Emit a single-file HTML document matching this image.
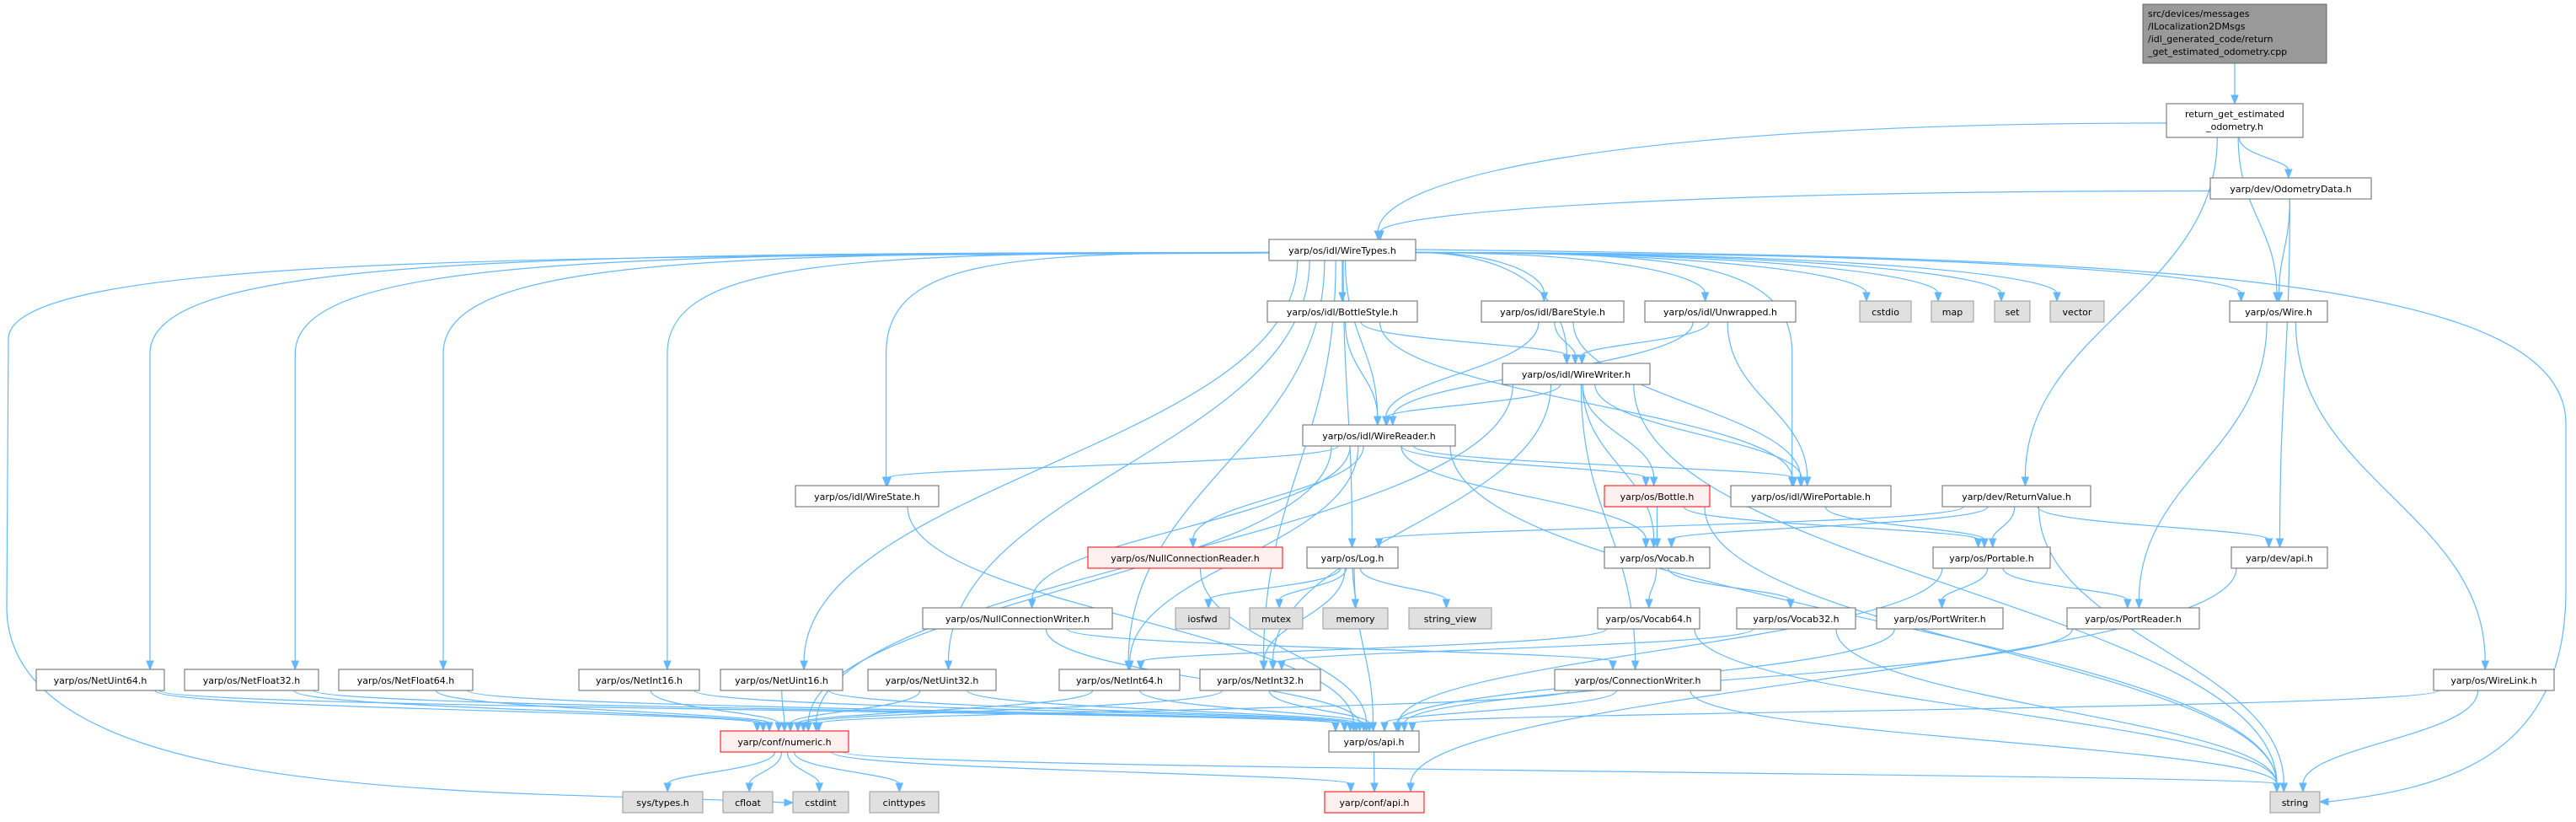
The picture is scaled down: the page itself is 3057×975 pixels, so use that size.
<!DOCTYPE html>
<html><head><meta charset="utf-8">
<style>
html,body{margin:0;padding:0;background:#fff;}
svg{display:block;}
text{font-family:"DejaVu Sans","Liberation Sans",sans-serif;font-size:11px;fill:#000;}
</style></head>
<body>
<svg id="g" width="3057" height="975" viewBox="0 0 3057 975" xmlns="http://www.w3.org/2000/svg">
<g id="edges" fill="none" stroke="#63b8ff" stroke-width="1.2"></g>
<g id="arrows" fill="#63b8ff" stroke="#63b8ff" stroke-width="1"></g>
<g id="nodes">
<rect x="2543" y="5" width="218" height="70" fill="#999" stroke="#666"/>
<text x="2549" y="20">src/devices/messages</text>
<text x="2549" y="35">/ILocalization2DMsgs</text>
<text x="2549" y="50">/idl_generated_code/return</text>
<text x="2549" y="65">_get_estimated_odometry.cpp</text>
<rect x="2571" y="123" width="162" height="40" fill="#fff" stroke="#666"/>
<text x="2652" y="139" text-anchor="middle">return_get_estimated</text>
<text x="2652" y="154" text-anchor="middle">_odometry.h</text>
</g>
</svg>
<script>
var N={
odo:[2623,2814,211,"yarp/dev/OdometryData.h",0],
wt:[1506,1680,284,"yarp/os/idl/WireTypes.h",0],
bot:[1504,1682,357,"yarp/os/idl/BottleStyle.h",0],
bare:[1758,1927,357,"yarp/os/idl/BareStyle.h",0],
unw:[1952,2131,357,"yarp/os/idl/Unwrapped.h",0],
cstdio:[2207,2268,357,"cstdio",1],
map:[2292,2342,357,"map",1],
set:[2367,2409,357,"set",1],
vector:[2433,2497,357,"vector",1],
wire:[2646,2762,357,"yarp/os/Wire.h",0],
ww:[1783,1958,431,"yarp/os/idl/WireWriter.h",0],
wr:[1546,1727,504,"yarp/os/idl/WireReader.h",0],
ws:[944,1114,576,"yarp/os/idl/WireState.h",0],
bottle:[1904,2029,576,"yarp/os/Bottle.h",2],
wp:[2054,2244,576,"yarp/os/idl/WirePortable.h",0],
rv:[2305,2481,576,"yarp/dev/ReturnValue.h",0],
ncr:[1291,1522,649,"yarp/os/NullConnectionReader.h",2],
log:[1551,1659,649,"yarp/os/Log.h",0],
vocab:[1904,2029,649,"yarp/os/Vocab.h",0],
port:[2294,2433,649,"yarp/os/Portable.h",0],
devapi:[2648,2762,649,"yarp/dev/api.h",0],
ncw:[1095,1320,721,"yarp/os/NullConnectionWriter.h",0],
iosfwd:[1395,1459,721,"iosfwd",1],
mutex:[1483,1546,721,"mutex",1],
memory:[1570,1647,721,"memory",1],
sv:[1672,1770,721,"string_view",1],
v64:[1896,2017,721,"yarp/os/Vocab64.h",0],
v32:[2061,2202,721,"yarp/os/Vocab32.h",0],
pw:[2227,2377,721,"yarp/os/PortWriter.h",0],
pr:[2453,2610,721,"yarp/os/PortReader.h",0],
nu64:[43,195,794,"yarp/os/NetUint64.h",0],
nf32:[219,378,794,"yarp/os/NetFloat32.h",0],
nf64:[402,561,794,"yarp/os/NetFloat64.h",0],
ni16:[687,830,794,"yarp/os/NetInt16.h",0],
nu16:[855,1000,794,"yarp/os/NetUint16.h",0],
nu32:[1030,1182,794,"yarp/os/NetUint32.h",0],
ni64:[1257,1400,794,"yarp/os/NetInt64.h",0],
ni32:[1424,1567,794,"yarp/os/NetInt32.h",0],
cw:[1845,2042,794,"yarp/os/ConnectionWriter.h",0],
wl:[2888,3031,794,"yarp/os/WireLink.h",0],
num:[855,1007,867,"yarp/conf/numeric.h",2],
api:[1577,1684,867,"yarp/os/api.h",0],
sys:[739,834,939,"sys/types.h",1],
cfloat:[858,917,939,"cfloat",1],
cstdint:[941,1007,939,"cstdint",1],
cint:[1032,1114,939,"cinttypes",1],
capi:[1572,1690,939,"yarp/conf/api.h",2],
str:[2694,2753,939,"string",1]
};
N.rg=[2571,2733,123,"",9,40];
N.cpp=[2543,2761,5,"",9,70];
var E=[["cpp","rg"],["rg","wt"],["rg","rv"],["rg","odo"],["rg","wire"],
["odo","wt"],["odo","wire"],["odo","devapi"],
["wt","nu64"],["wt","nf32"],["wt","nf64"],["wt","ni16"],["wt","nu16"],["wt","nu32"],["wt","ni64"],["wt","ni32"],
["wt","bot"],["wt","bare"],["wt","unw"],["wt","ww"],["wt","wr"],["wt","ws"],["wt","wp"],["wt","log"],["wt","cstdio"],["wt","map"],["wt","set"],["wt","vector"],["wt","wire"],
["bot","ww"],["bot","wr"],["bot","wp"],["bare","ww"],["bare","wr"],["bare","wp"],["unw","ww"],["unw","wr"],["unw","wp"],
["ww","wr"],["ww","bottle"],["ww","wp"],["ww","vocab"],["ww","cw"],["ww","ni32"],["ww","num"],["ww","str"],
["wr","ws"],["wr","ncr"],["wr","ncw"],["wr","bottle"],["wr","wp"],["wr","vocab"],["wr","num"],["wr","str"],["wr","ni64"],
["bottle","vocab"],["bottle","port"],["bottle","str"],["wp","port"],
["rv","log"],["rv","vocab"],["rv","port"],["rv","devapi"],["rv","str"],
["log","iosfwd"],["log","mutex"],["log","memory"],["log","sv"],["log","api"],["log","ni32"],
["vocab","v64"],["vocab","v32"],["v64","ni64"],["v64","str"],["v32","ni32"],["v32","str"],
["port","pw"],["port","pr"],["port","api"],["pw","api"],["pr","api"],["devapi","capi"],
["wire","pr"],["wire","wl"],["wl","api"],["wl","str"],
["nu64","num"],["nu64","api"],["nf32","num"],["nf32","api"],["nf64","num"],["nf64","api"],["ni16","num"],["ni16","api"],["nu16","num"],["nu16","api"],["nu32","num"],["nu32","api"],["ni64","num"],["ni64","api"],["ni32","num"],["ni32","api"],
["ncr","api"],["ncw","api"],["ncw","cw"],["cw","api"],["cw","num"],["cw","str"],["ws","api"],
["api","capi"],["num","sys"],["num","cfloat"],["num","cstdint"],["num","cint"],["num","capi"],["num","str"]];
var NS="http://www.w3.org/2000/svg";
var gn=document.getElementById("nodes"),ge=document.getElementById("edges"),ga=document.getElementById("arrows");
function el(t,a,p){var e=document.createElementNS(NS,t);for(var k in a)e.setAttribute(k,a[k]);p.appendChild(e);return e;}
for(var k in N){var n=N[k];if(n[4]==9)continue;
 var fill=["#fff","#e0e0e0","#fff0f0"][n[4]],st=["#666","#999","#f00"][n[4]];
 el("rect",{x:n[0],y:n[2],width:n[1]-n[0],height:25,fill:fill,stroke:st},gn);
 var t=el("text",{x:(n[0]+n[1])/2,y:n[2]+17,"text-anchor":"middle"},gn);t.textContent=n[3];}
function h(n){return n[5]||25;}
function arrowDown(tx,ty){el("polygon",{points:(tx-4)+","+(ty-10)+" "+(tx+4)+","+(ty-10)+" "+tx+","+ty},ga);}
function arrowRight(tx,ty){el("polygon",{points:(tx-10)+","+(ty-4)+" "+(tx-10)+","+(ty+4)+" "+tx+","+ty},ga);}
function arrowLeft(tx,ty){el("polygon",{points:(tx+10)+","+(ty-4)+" "+(tx+10)+","+(ty+4)+" "+tx+","+ty},ga);}
E.forEach(function(e){var s=N[e[0]],t=N[e[1]];
 var scx=(s[0]+s[1])/2,tcx=(t[0]+t[1])/2;
 var sy=s[2]+h(s),ty=t[2];var dy=ty-sy;
 var sx;
 var tx=tcx+(scx-tcx)*0.04;tx=Math.max(t[0]+8,Math.min(t[1]-8,tx));
 if((e[0]=="wt"||e[0]=="rg"||e[0]=="odo") && Math.abs(tcx-scx)>1.5*dy && (tcx>s[1]+20||tcx<s[0]-20)){
   sx=tcx>scx?s[1]:s[0];var syy=s[2]+h(s)/2+3;
   if(t[2]>500){
     // go horizontal then down vertically
     el("path",{d:"M"+sx+","+syy+" C"+(tx+(sx-tx)*0.3)+","+syy+" "+tx+","+(syy+10)+" "+tx+","+(syy+120)+" L"+tx+","+(ty-120)+" C"+tx+","+(ty-60)+" "+tx+","+(ty-30)+" "+tx+","+(ty-9)},ge);
   } else {
     var mx=sx+(tx-sx)*0.7;
     el("path",{d:"M"+sx+","+syy+" C"+mx+","+syy+" "+tx+","+(ty-dy*0.6)+" "+tx+","+(ty-9)},ge);
   }
   arrowDown(tx,ty);return;
 }
 sx=scx+(tcx-scx)*0.08;sx=Math.max(s[0]+6,Math.min(s[1]-6,sx));
 var c1y=sy+dy*0.45,c2y=ty-dy*0.45;
 el("path",{d:"M"+sx+","+sy+" C"+sx+","+c1y+" "+tx+","+c2y+" "+tx+","+(ty-9)},ge);
 arrowDown(tx,ty);
});
// special long routes
el("path",{d:"M1506,300 C700,305 20,300 10,400 L8,720 C8,960 600,935 931,952"},ge);arrowRight(941,952);
el("path",{d:"M1680,296 C2500,305 3040,320 3045,500 L3045,700 C3045,900 2900,935 2763,951"},ge);arrowLeft(2753,951);
</script>
</body></html>
